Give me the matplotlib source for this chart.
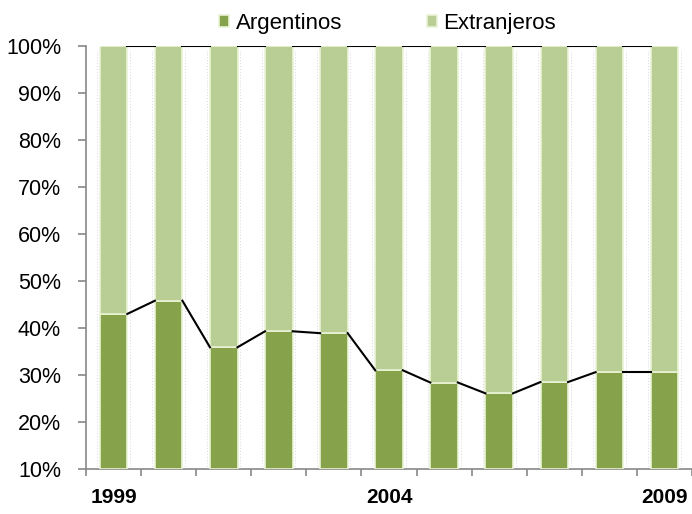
import matplotlib
matplotlib.use("Agg")
import matplotlib.pyplot as plt
import numpy as np

years = ["1999", "2000", "2001", "2002", "2003", "2004", "2005", "2006", "2007", "2008", "2009"]
argentinos = [43.0, 45.8, 35.9, 39.3, 38.9, 31.0, 28.4, 26.1, 28.5, 30.6, 30.6]
extranjeros = [100 - a for a in argentinos]
shown_labels = {"1999", "2004", "2009"}

plt.rcParams['font.family'] = ['Liberation Sans', 'DejaVu Sans']

dark = '#86a24a'
light = '#b9ce95'
edge = '#eaf3d6'

fig = plt.figure(figsize=(6.92, 5.14), dpi=100)
ax = fig.add_axes([86/692, 1-469/514, 1-86/692, (469-46)/514])

x = np.arange(len(years))
w = 0.5
ymin = 10
arg_h = [a - ymin for a in argentinos]
ax.bar(x, arg_h, w, bottom=ymin, color=dark, edgecolor=edge, linewidth=1.2, zorder=3, label='Argentinos')
ax.bar(x, extranjeros, w, bottom=argentinos, color=light, edgecolor=edge, linewidth=1.2, zorder=3, label='Extranjeros')

# faint dotted shadows beside bars
for xi in x:
    for dx in (-0.3, 0.3):
        ax.plot([xi + dx, xi + dx], [ymin, 99.4], color='#d8d8d8', lw=0.7, ls=(0, (1, 2)), zorder=1)

# series lines
tops = [a + e for a, e in zip(argentinos, extranjeros)]
for i in range(len(years) - 1):
    ax.plot([x[i] + w/2, x[i+1] - w/2], [argentinos[i], argentinos[i+1]], color='black', lw=1.5, zorder=4)
    ax.plot([x[i] + w/2, x[i+1] - w/2], [tops[i], tops[i+1]], color='black', lw=1.5, zorder=4)

ax.set_xlim(-0.5, len(years) - 0.5)
ax.set_ylim(10, 100)
ax.set_yticks(np.arange(10, 101, 10))
ax.set_yticklabels([f"{v}%" for v in range(10, 101, 10)], fontsize=15.5)

ax.set_xticks(x)
ax.set_xticklabels([y if y in shown_labels else "" for y in years], fontsize=15, fontweight='bold')
ax.set_xticks(np.arange(-0.5, len(years), 1), minor=True)
ax.tick_params(axis='x', which='major', length=0, pad=14)
ax.tick_params(axis='x', which='minor', length=5, color='#888888', width=1.2)
ax.tick_params(axis='y', length=6, color='#888888', width=1.2, pad=12)

for s in ['top', 'right']:
    ax.spines[s].set_visible(False)
for s in ['left', 'bottom']:
    ax.spines[s].set_color('#888888')
    ax.spines[s].set_linewidth(1.2)

leg = fig.legend(loc='center', bbox_to_anchor=(0.56, 1-23/514), ncol=2, frameon=False,
                 fontsize=16, handlelength=0.45, handleheight=0.45, handletextpad=0.3, columnspacing=3.8)

fig.savefig('out.png', dpi=100)
